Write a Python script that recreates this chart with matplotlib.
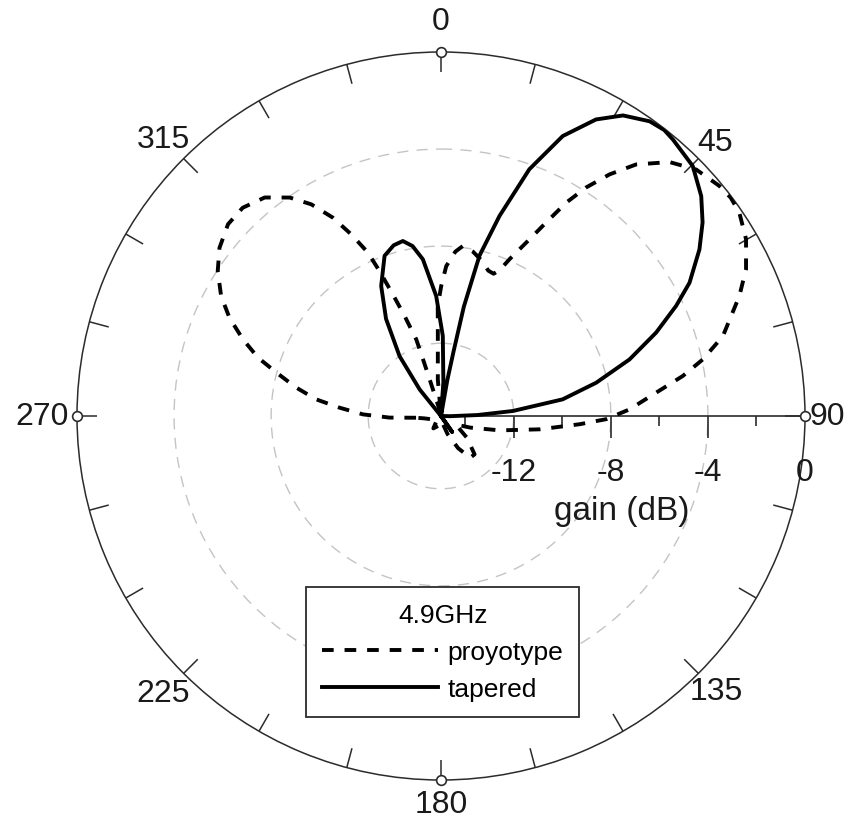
import numpy as np
import matplotlib
matplotlib.use('Agg')
import matplotlib.pyplot as plt
from matplotlib.markers import TICKDOWN

plt.rcParams['font.family'] = ['Liberation Sans', 'DejaVu Sans']

# ---------------- data ----------------
theta_label_angles = [0, 45, 90, 135, 180, 225, 270, 315]
theta_labels = ['0', '45', '90', '135', '180', '225', '270', '315']
theta_minor_angles = list(range(0, 360, 15))
r_major_values = [-12, -8, -4]
r_minor_values = [-14, -10, -6, -2]
r_label_values = [-12, -8, -4, 0]
r_labels = ['-12', '-8', '-4', '0']
r_axis_title = 'gain (dB)'
legend_title = '4.9GHz'
series_names = ['proyotype', 'tapered']

# prototype (dashed), angle in degrees (clockwise from top), gain in dB
proto_theta = [-94, -91.8, -88.8, -85.3, -82.4, -78.9, -75.2, -72.3, -68.8, -65.1,
               -61.4, -57.0, -52.8, -48.0, -43.6, -38.9, -34.7, -31.5, -28.6, -26.3,
               -24.1, -23.0, -21.6, -20.0, -17.9, -17.6, -17.2, -15, -10, -5,
               -2.1, -1.7, 0.1, 2.0, 5, 7.3, 11, 15, 18, 20.3, 22, 23.6,
               26.6, 28.5, 30.4, 32.4, 34.9, 37.8, 42.0, 46.0, 50.4, 53,
               55.7, 59.9, 64.3, 68.1, 74.2, 77.8, 80.6, 83.8, 88.0, 91.1,
               93.4, 97.7, 103.7, 111.6, 120, 130, 138.8, 145, 152, 160,
               175, 191.7, 211.7, 230, 250, 262, 266]
proto_gain = [-13.97, -12.88, -11.78, -10.80, -9.81, -8.92, -7.98, -7.08, -6.24, -5.39,
              -4.68, -4.03, -3.54, -3.19, -3.15, -3.43, -4.05, -4.77, -5.69, -6.65,
              -7.62, -8.51, -9.61, -10.61, -11.68, -12.55, -13.41, -14.6, -15, -13.5,
              -11.43, -10.47, -9.64, -8.82, -8.2, -7.94, -8.1, -8.4, -8.7, -8.75, -8.5, -7.95,
              -6.86, -5.93, -4.81, -3.85, -2.86, -1.88, -0.92, -0.38, -0.12, -0.05,
              -0.12, -0.47, -1.05, -1.75, -2.93, -3.96, -4.90, -6.08, -7.23, -8.19,
              -9.28, -10.9, -12.5, -13.7, -14.3, -13.6, -12.9, -12.9, -13.5, -14.2,
              -14.8, -14.6, -14.4, -14.8, -14.6, -14.3, -13.97]

# tapered (solid)
taper_theta = [-40, -38.8, -34.7, -29.5, -24.7, -19.4, -15.5, -12.3, -9.5, -6.6,
               -2.3, 1.3, 4, 6, 9, 10, 11, 11.8, 13.5, 16.3,
               19.7, 23.5, 27.6, 31.2, 35.3, 38, 40.0, 45.2, 49.8, 53.5,
               57.2, 61.8, 64.9, 68.8, 73.3, 77.9, 82.2, 86, 88.5, 91,
               100, 130, 145, 160, 200, 320]
taper_gain = [-15, -13.6, -12.0, -10.4, -9.1, -8.0, -7.7, -7.62, -7.9, -8.5,
              -10.05, -11.7, -13.6, -15, -15, -13.5, -12.3, -10.4, -8.2, -6.41,
              -4.2, -2.42, -1.21, -0.52, -0.12, -0.05, -0.13, -0.38, -0.96, -1.59,
              -2.33, -3.38, -4.30, -5.49, -6.89, -8.46, -9.94, -12.03, -13.5, -14.6,
              -15, -15, -14.2, -15, -15, -15]

r_min, r_max = -15, 0

# ---------------- figure ----------------
W, H = 858, 829
fig = plt.figure(figsize=(W / 100, H / 100), dpi=100)
fig.patch.set_facecolor('white')
ax = fig.add_axes([77 / W, (H - 781) / H, 728 / W, 728 / H], projection='polar')
ax.set_theta_zero_location('N')
ax.set_theta_direction(-1)
ax.set_rlim(r_min, r_max)

ink = '#2b2b2b'
span = r_max - r_min

# radial grid circles
ax.set_rticks(r_major_values)
ax.set_yticklabels([])
ax.yaxis.grid(True, color='#c4c4c4', linestyle=(0, (8, 6)), linewidth=1.0)
ax.xaxis.grid(False)
ax.tick_params(axis='y', length=0)
ax.set_xticks([])
ax.spines['polar'].set_linewidth(1.1)
ax.spines['polar'].set_color(ink)

# theta tick marks (inward) every 15 degrees
tick_len = 0.055 * span
for a in theta_minor_angles:
    ax.plot([np.deg2rad(a)] * 2, [r_max - tick_len, r_max], color=ink, lw=1.1,
            zorder=3, solid_capstyle='butt')

# curves
ln_p, = ax.plot(np.deg2rad(proto_theta), proto_gain, color='black', lw=2.8,
                linestyle=(0, (3.0, 2.8)), label=series_names[0], zorder=4)
ln_t, = ax.plot(np.deg2rad(taper_theta), taper_gain, color='black', lw=2.8,
                label=series_names[1], zorder=5)

# radial axis line along 90 degrees
ax.plot([np.pi / 2, np.pi / 2], [r_min, r_max], color=ink, lw=1.2, zorder=3)
ax.plot(np.full(len(r_major_values), np.pi / 2), r_major_values, ls='none',
        marker=TICKDOWN, ms=16, mew=1.2, color=ink, zorder=3)
ax.plot(np.full(len(r_minor_values), np.pi / 2), r_minor_values, ls='none',
        marker=TICKDOWN, ms=7, mew=1.2, color=ink, zorder=3)

# markers at cardinal directions
card = [0, 90, 180, 270]
ax.plot(np.deg2rad(card), [r_max] * len(card), ls='none', marker='o', ms=7,
        mfc='white', mec=ink, mew=1.2, clip_on=False, zorder=6)

# theta labels (radial distance as fraction of the outer radius)
label_frac = {0: 1.085, 45: 1.066, 90: 1.06, 135: 1.07, 180: 1.066,
              225: 1.078, 270: 1.097, 315: 1.078}
for a, s in zip(theta_label_angles, theta_labels):
    r_lab = r_min + label_frac[a] * span
    ax.text(np.deg2rad(a), r_lab, s, ha='center', va='center', fontsize=23,
            color='#1a1a1a', clip_on=False)

# radial labels
for v, s in zip(r_label_values, r_labels):
    ax.annotate(s, xy=(np.pi / 2, v), xytext=(0, -40), textcoords='offset points',
                ha='center', va='center', fontsize=23, color='#1a1a1a',
                annotation_clip=False)
ax.annotate(r_axis_title, xy=(np.pi / 2, -7.54), xytext=(0, -68),
            textcoords='offset points', ha='center', va='center', fontsize=24,
            color='#1a1a1a', annotation_clip=False)

leg = ax.legend(handles=[ln_p, ln_t], loc='center', bbox_to_anchor=(0.516, 0.2125),
                bbox_transform=fig.transFigure, title=legend_title, fontsize=19,
                title_fontsize=19, frameon=True, fancybox=False, framealpha=1,
                edgecolor=ink, handlelength=4.4, handletextpad=0.35,
                labelspacing=0.5, borderpad=0.6)
leg.get_frame().set_linewidth(1.3)
leg.set_zorder(10)

fig.savefig('out.png', dpi=100, facecolor='white')
